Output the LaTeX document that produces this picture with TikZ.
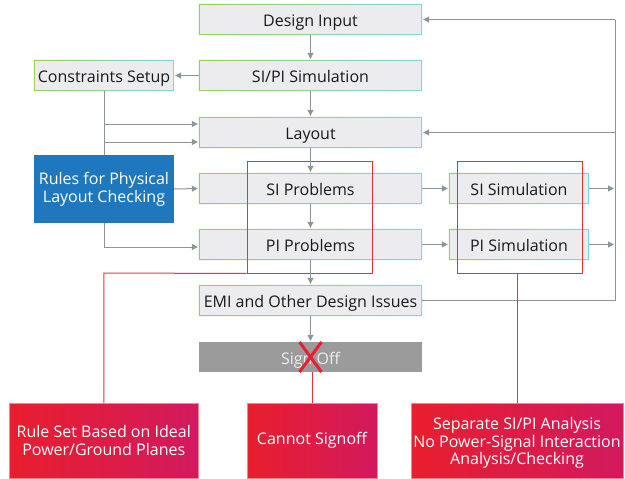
\documentclass[tikz,border=0pt]{standalone}
\usepackage{fontspec}
\setmainfont{Open Sans}
\usetikzlibrary{arrows.meta}
\definecolor{bgreen}{HTML}{9BCF5A}
\definecolor{bcyan}{HTML}{7FD6DC}
\definecolor{boxfill}{HTML}{ECECEE}
\definecolor{bluebox}{HTML}{1F78BE}
\definecolor{arrowgray}{HTML}{8A959D}
\definecolor{signgray}{HTML}{9B9B9B}
\definecolor{redA}{HTML}{E91E2E}
\definecolor{redB}{HTML}{D11A5E}
\definecolor{frame}{HTML}{EE3035}
\begin{document}
\begin{tikzpicture}[x=1pt,y=-1pt,
  onetext/.style={text height=14.5pt, text depth=0.3pt},
  flowbox/.style={rectangle, inner sep=0pt, minimum height=31pt, fill=boxfill, onetext,
    font=\fontsize{16}{18}\selectfont, text=black!90},
  mainbox/.style={flowbox, minimum width=223pt},
  sidebox/.style={flowbox, minimum width=140pt},
  redbox/.style={rectangle, inner sep=0pt, left color=redA, right color=redB, draw=redA!55!white, line width=0.6pt,
    text=white, align=center, font=\fontsize{16}{17.5}\selectfont, minimum height=75pt},
  redframe/.style={rectangle, draw=frame, line width=1pt, minimum width=125pt, minimum height=112pt, inner sep=0pt},
  arr/.style={draw=arrowgray, line width=1pt, -{Triangle[length=6pt,width=6pt]}, shorten >=1pt},
  ln/.style={draw=arrowgray, line width=1pt},
  redln/.style={draw=frame, line width=1pt}]
\useasboundingbox (0,0) rectangle (625,479);

% main column
\node[mainbox] (di) at (310.5,19.5) {Design Input};
\node[mainbox] (sps) at (310.5,75.5) {SI/PI Simulation};
\node[mainbox] (lay) at (310.5,132.5) {Layout};
\node[mainbox] (sip) at (310.5,188.5) {SI Problems};
\node[mainbox] (pip) at (310.5,244.5) {PI Problems};
\node[mainbox] (emi) at (310.5,300.5) {EMI and Other Design Issues};
\node[rectangle, fill=signgray, minimum width=223pt, minimum height=30pt, inner sep=0pt, onetext,
  text=white!93!black, font=\fontsize{16}{18}\selectfont] (so) at (310.5,357) {Sign Off};

% side boxes
\node[sidebox] (cs) at (104,75.5) {Constraints Setup};
\node[rectangle, fill=bluebox, minimum width=140pt, minimum height=68pt, inner sep=0pt,
  text=white, align=center, font=\fontsize{16}{18}\selectfont] (rules) at (104,189) {Rules for Physical\\Layout Checking};
\node[sidebox] (sis) at (519,188.5) {SI Simulation};
\node[sidebox] (pis) at (519,244.5) {PI Simulation};

% gradient frames of the grey boxes
\foreach \n in {di,sps,lay,sip,pip,emi,cs,sis,pis}{
  \shade[left color=bgreen, right color=bcyan, even odd rule]
    (\n.south west) rectangle (\n.north east)
    ([shift={(1.1pt,1.1pt)}]\n.south west) rectangle ([shift={(-1.1pt,-1.1pt)}]\n.north east);
}

% red frames
\node[redframe] (rf1) at (309.5,217) {};
\node[redframe] (rf2) at (519.5,217) {};

% bottom boxes
\node[redbox, minimum width=189.5pt] (b1) at (103.75,440.5) {Rule Set Based on Ideal\\Power/Ground Planes};
\node[redbox, minimum width=130pt] (b2) at (312,440.5) {Cannot Signoff};
\node[redbox, minimum width=212pt, text height=52.5pt, text depth=4.2pt] (b3) at (517,440.5) {Separate SI/PI Analysis\\No Power-Signal Interaction\\Analysis/Checking};

% main flow arrows
\draw[arr] (di) -- (sps);
\draw[arr] (sps) -- (lay);
\draw[arr] (lay) -- (sip);
\draw[arr] (sip) -- (pip);
\draw[arr] (pip) -- (emi);
\draw[arr] (emi) -- (so);

% side arrows
\draw[arr] (sps.west) -- (cs.east);
\draw[arr] (cs.south) |- ([yshift=-9.5pt]lay.west);
\draw[arr] (rules.north) |- ([yshift=8.5pt]lay.west);
\draw[arr] (rules.east) -- (sip.west);
\draw[arr] (rules.south) |- ([yshift=-2.5pt]pip.west);
\draw[arr] (sip.east) -- (sis.west);
\draw[arr] (pip.east) -- (pis.west);

% feedback loop
\coordinate (ltop) at (615,19.5);
\coordinate (lmid) at (615,132.5);
\coordinate (lsi) at (615,188.5);
\coordinate (lpi) at (615,244.5);
\coordinate (lbot) at (615,300.5);
\draw[ln] (emi.east) -- (lbot) -- (ltop);
\draw[arr] (ltop) -- (di.east);
\draw[arr] (lmid) -- (lay.east);
\draw[arr] (sis.east) -- (lsi);
\draw[arr] (pis.east) -- (lpi);

% red connectors
\coordinate (rc1) at (103.75,273);
\draw[redln] (rf1.south west) -- (rc1) -- (b1.north);
\draw[redln] (so.south -| b2.north) -- (b2.north);
\draw[redln] (rf2.south -| b3.north) -- (b3.north);

% red cross on Sign Off
\draw[draw=redA, line width=3pt] (299.5,342) -- (321.5,372) (321.5,342) -- (299.5,372);
\end{tikzpicture}
\end{document}
